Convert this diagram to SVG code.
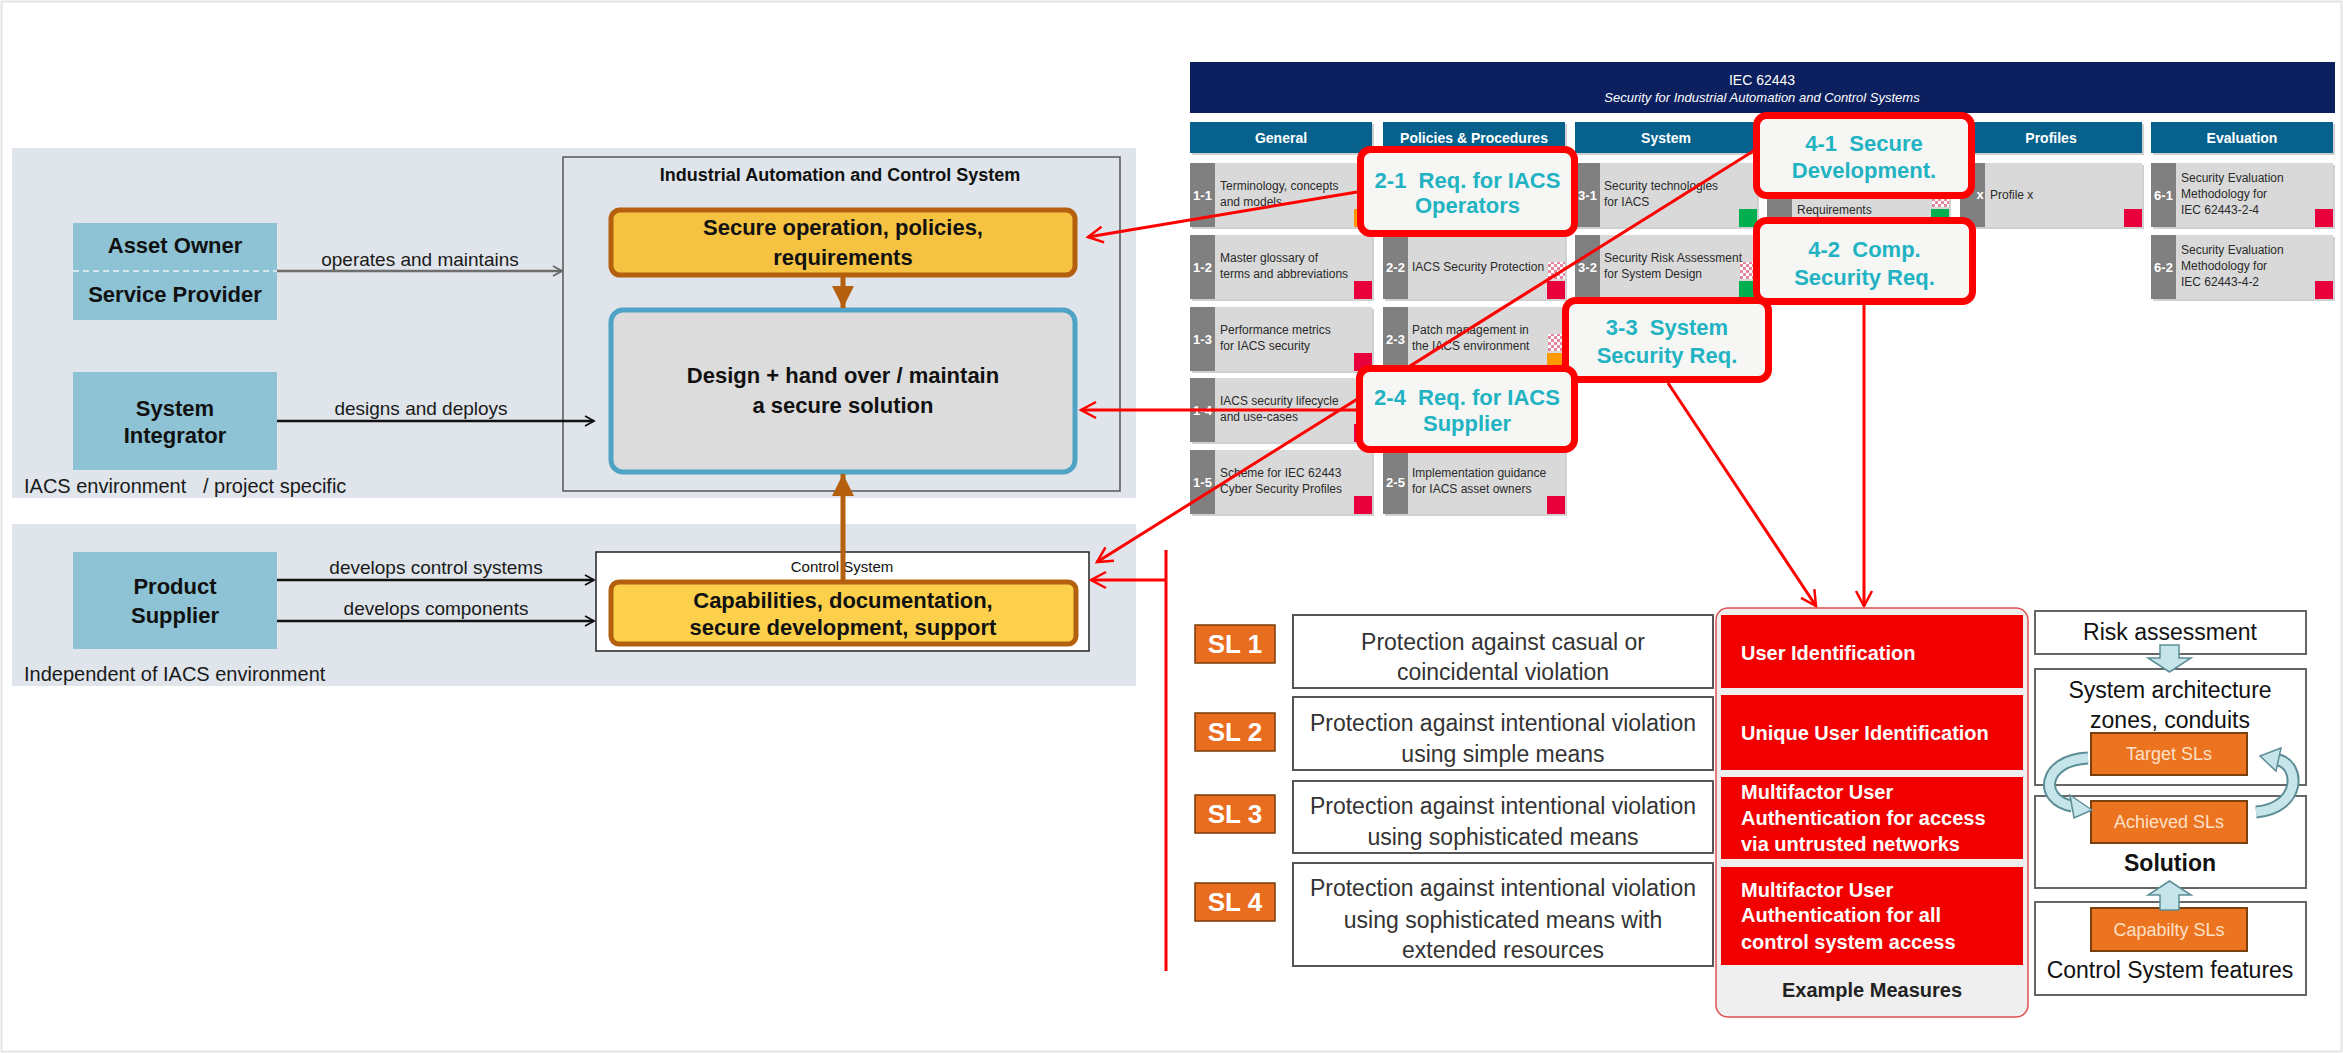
<svg xmlns="http://www.w3.org/2000/svg" width="2343" height="1053" viewBox="0 0 2343 1053">
<style>
text{font-family:"Liberation Sans",Arial,sans-serif}
.pre{white-space:pre}
.panel{fill:#dfe5eb}
.actor{fill:#8dc3d4}
.bt{font-size:22px;font-weight:bold;fill:#111;text-anchor:middle}
.lbl{font-size:19px;fill:#1a1a1a;text-anchor:middle}
.env{font-size:20px;fill:#1a1a1a}
.ybox{fill:#f5c242;stroke:#b4600f;stroke-width:5}
.ybox2{fill:#fcd04a;stroke:#b4600f;stroke-width:5}
.dbox{fill:#dcdcdc;stroke:#4fa3c4;stroke-width:5}
.hdr{fill:#06628d}
.hdrt{font-size:14px;font-weight:bold;fill:#fff;text-anchor:middle}
.shd{fill:#bcbcbc;opacity:.7}
.strip{fill:#808080}
.body{fill:#d9d9d9}
.num{font-size:13px;font-weight:bold;fill:#fff;text-anchor:middle}
.ct{font-size:12px;fill:#2a2a2a}
.red{fill:#e8003d}
.grn{fill:#00b050}
.org{fill:#ff9900}
.call{fill:#f6f6f4;stroke:#ff0000;stroke-width:7}
.callt{font-size:22px;font-weight:bold;fill:#22b3c3;text-anchor:middle}
.rl{stroke:#ff0000;stroke-width:3;fill:none}
.sl{fill:#e96d1f;stroke:#7a3a0a;stroke-width:1.5}
.slt{font-size:26px;font-weight:bold;fill:#fff;text-anchor:middle}
.desc{fill:#fff;stroke:#555;stroke-width:2}
.dt{font-size:23px;fill:#333;text-anchor:middle}
.meas{fill:#f20000}
.mt{font-size:20px;font-weight:bold;fill:#fff}
.rbox{fill:#fff;stroke:#666;stroke-width:2}
.rt{font-size:23px;fill:#111;text-anchor:middle}
.obox{fill:#ec7420;stroke:#7a4010;stroke-width:2}
.ot{font-size:18px;fill:#fde0c8;text-anchor:middle}
.lba{fill:#c6e5ea;stroke:#5d8e97;stroke-width:1.5}
</style>
<defs>
<pattern id="chk" width="6" height="6" patternUnits="userSpaceOnUse">
<rect width="6" height="6" fill="#ffffff"/>
<rect width="3" height="3" fill="#e4869e"/>
<rect x="3" y="3" width="3" height="3" fill="#e4869e"/>
</pattern>
<marker id="ag" markerUnits="userSpaceOnUse" markerWidth="14" markerHeight="14" refX="10" refY="6" orient="auto">
<path d="M1,1 L10,6 L1,11" fill="none" stroke="#666" stroke-width="1.8"/>
</marker>
<marker id="ab" markerUnits="userSpaceOnUse" markerWidth="14" markerHeight="14" refX="10" refY="6" orient="auto">
<path d="M1,1 L10,6 L1,11" fill="none" stroke="#111" stroke-width="1.8"/>
</marker>
<marker id="ar" markerUnits="userSpaceOnUse" markerWidth="22" markerHeight="22" refX="18" refY="11" orient="auto">
<path d="M3,3 L18,11 L3,19" fill="none" stroke="#ff0000" stroke-width="2.5"/>
</marker>
<marker id="abr" markerUnits="userSpaceOnUse" markerWidth="26" markerHeight="24" refX="22" refY="11" orient="auto">
<path d="M0,0 L22,11 L0,22 Z" fill="#b4600f"/>
</marker>
</defs>

<rect x="0" y="0" width="2343" height="1053" fill="#ffffff"/>
<rect x="1.5" y="1.5" width="2340" height="1050" fill="none" stroke="#e4e4e4" stroke-width="2"/>

<!-- left panels -->
<g id="panel-iacs">
<rect class="panel" x="12" y="148" width="1124" height="350"/>
<text class="env pre" x="24" y="493">IACS environment   / project specific</text>
</g>
<g id="panel-indep">
<rect class="panel" x="12" y="524" width="1124" height="162"/>
<text class="env" x="24" y="681">Independent of IACS environment</text>
</g>

<g id="asset-owner">
<rect class="actor" x="73" y="223" width="204" height="97"/>
<line x1="73" y1="271" x2="277" y2="271" stroke="#d4e8ee" stroke-width="2" stroke-dasharray="6,4"/>
<text class="bt" x="175" y="253">Asset Owner</text>
<text class="bt" x="175" y="302">Service Provider</text>
</g>
<g id="system-integrator">
<rect class="actor" x="73" y="372" width="204" height="98"/>
<text class="bt" x="175" y="416">System</text>
<text class="bt" x="175" y="443">Integrator</text>
</g>
<g id="product-supplier">
<rect class="actor" x="73" y="552" width="204" height="97"/>
<text class="bt" x="175" y="594">Product</text>
<text class="bt" x="175" y="623">Supplier</text>
</g>

<g id="iacs-box">
<rect x="563" y="157" width="557" height="334" fill="none" stroke="#555" stroke-width="1.5"/>
<text x="840" y="181" font-size="18" font-weight="bold" fill="#111" text-anchor="middle">Industrial Automation and Control System</text>
</g>
<g id="secure-operation">
<rect class="ybox" x="611" y="210" width="464" height="65" rx="9"/>
<text class="bt" x="843" y="235">Secure operation, policies,</text>
<text class="bt" x="843" y="265">requirements</text>
</g>
<g id="design-solution">
<rect class="dbox" x="611" y="310" width="464" height="162" rx="12"/>
<text class="bt" x="843" y="383">Design + hand over / maintain</text>
<text class="bt" x="843" y="413">a secure solution</text>
</g>
<g id="control-system">
<rect x="596" y="552" width="493" height="99" fill="#fff" stroke="#222" stroke-width="1.5"/>
<text x="842" y="572" font-size="15" fill="#111" text-anchor="middle">Control System</text>
</g>
<g id="capabilities">
<rect class="ybox2" x="611" y="582" width="465" height="62" rx="8"/>
<text class="bt" x="843" y="608">Capabilities, documentation,</text>
<text class="bt" x="843" y="635">secure development, support</text>
</g>

<!-- IEC 62443 overview -->
<g id="iec-header">
<rect x="1190" y="62" width="1145" height="51" fill="#0c1f5e"/>
<text x="1762" y="85" font-size="14" fill="#fff" text-anchor="middle">IEC 62443</text>
<text x="1762" y="102" font-size="13" font-style="italic" fill="#fff" text-anchor="middle">Security for Industrial Automation and Control Systems</text>
</g>
<g id="col-headers">
<rect class="shd" x="1192" y="124" width="182" height="31"/><rect class="hdr" x="1190" y="122" width="182" height="31"/><text class="hdrt" x="1281" y="143">General</text>
<rect class="shd" x="1385" y="124" width="182" height="31"/><rect class="hdr" x="1383" y="122" width="182" height="31"/><text class="hdrt" x="1474" y="143">Policies &amp; Procedures</text>
<rect class="shd" x="1577" y="124" width="182" height="31"/><rect class="hdr" x="1575" y="122" width="182" height="31"/><text class="hdrt" x="1666" y="143">System</text>
<rect class="hdr" x="1767" y="122" width="182" height="31"/>
<rect class="shd" x="1962" y="124" width="182" height="31"/><rect class="hdr" x="1960" y="122" width="182" height="31"/><text class="hdrt" x="2051" y="143">Profiles</text>
<rect class="shd" x="2153" y="124" width="182" height="31"/><rect class="hdr" x="2151" y="122" width="182" height="31"/><text class="hdrt" x="2242" y="143">Evaluation</text>
</g>

<g id="card-1-1">
<rect class="shd" x="1192" y="165" width="182" height="64"/><rect class="strip" x="1190" y="163" width="25" height="64"/><rect class="body" x="1215" y="163" width="157" height="64"/>
<text class="num" x="1202.5" y="200">1-1</text>
<text class="ct" x="1220" y="190">Terminology, concepts</text><text class="ct" x="1220" y="206">and models</text>
<rect class="org" x="1354" y="209" width="18" height="18"/>
</g>
<g id="card-1-2">
<rect class="shd" x="1192" y="237" width="182" height="64"/><rect class="strip" x="1190" y="235" width="25" height="64"/><rect class="body" x="1215" y="235" width="157" height="64"/>
<text class="num" x="1202.5" y="272">1-2</text>
<text class="ct" x="1220" y="262">Master glossary of</text><text class="ct" x="1220" y="278">terms and abbreviations</text>
<rect class="red" x="1354" y="281" width="18" height="18"/>
</g>
<g id="card-1-3">
<rect class="shd" x="1192" y="309" width="182" height="64"/><rect class="strip" x="1190" y="307" width="25" height="64"/><rect class="body" x="1215" y="307" width="157" height="64"/>
<text class="num" x="1202.5" y="344">1-3</text>
<text class="ct" x="1220" y="334">Performance metrics</text><text class="ct" x="1220" y="350">for IACS security</text>
<rect class="red" x="1354" y="353" width="18" height="18"/>
</g>
<g id="card-1-4">
<rect class="shd" x="1192" y="380" width="182" height="64"/><rect class="strip" x="1190" y="378" width="25" height="64"/><rect class="body" x="1215" y="378" width="157" height="64"/>
<text class="num" x="1202.5" y="415">1-4</text>
<text class="ct" x="1220" y="405">IACS security lifecycle</text><text class="ct" x="1220" y="421">and use-cases</text>
<rect class="red" x="1354" y="424" width="18" height="18"/>
</g>
<g id="card-1-5">
<rect class="shd" x="1192" y="452" width="182" height="64"/><rect class="strip" x="1190" y="450" width="25" height="64"/><rect class="body" x="1215" y="450" width="157" height="64"/>
<text class="num" x="1202.5" y="487">1-5</text>
<text class="ct" x="1220" y="477">Scheme for IEC 62443</text><text class="ct" x="1220" y="493">Cyber Security Profiles</text>
<rect class="red" x="1354" y="496" width="18" height="18"/>
</g>
<g id="card-2-2">
<rect class="shd" x="1385" y="237" width="182" height="64"/><rect class="strip" x="1383" y="235" width="25" height="64"/><rect class="body" x="1408" y="235" width="157" height="64"/>
<text class="num" x="1395.5" y="272">2-2</text>
<text class="ct" x="1412" y="271">IACS Security Protection</text>
<rect fill="url(#chk)" x="1548" y="262" width="17" height="17"/>
<rect class="red" x="1547" y="281" width="18" height="18"/>
</g>
<g id="card-2-3">
<rect class="shd" x="1385" y="309" width="182" height="64"/><rect class="strip" x="1383" y="307" width="25" height="64"/><rect class="body" x="1408" y="307" width="157" height="64"/>
<text class="num" x="1395.5" y="344">2-3</text>
<text class="ct" x="1412" y="334">Patch management in</text><text class="ct" x="1412" y="350">the IACS environment</text>
<rect fill="url(#chk)" x="1548" y="334" width="17" height="17"/>
<rect class="org" x="1547" y="353" width="18" height="18"/>
</g>
<g id="card-2-5">
<rect class="shd" x="1385" y="452" width="182" height="64"/><rect class="strip" x="1383" y="450" width="25" height="64"/><rect class="body" x="1408" y="450" width="157" height="64"/>
<text class="num" x="1395.5" y="487">2-5</text>
<text class="ct" x="1412" y="477">Implementation guidance</text><text class="ct" x="1412" y="493">for IACS asset owners</text>
<rect class="red" x="1547" y="496" width="18" height="18"/>
</g>
<g id="card-3-1">
<rect class="shd" x="1577" y="165" width="182" height="64"/><rect class="strip" x="1575" y="163" width="25" height="64"/><rect class="body" x="1600" y="163" width="157" height="64"/>
<text class="num" x="1587.5" y="200">3-1</text>
<text class="ct" x="1604" y="190">Security technologies</text><text class="ct" x="1604" y="206">for IACS</text>
<rect class="grn" x="1739" y="209" width="18" height="18"/>
</g>
<g id="card-3-2">
<rect class="shd" x="1577" y="237" width="182" height="64"/><rect class="strip" x="1575" y="235" width="25" height="64"/><rect class="body" x="1600" y="235" width="157" height="64"/>
<text class="num" x="1587.5" y="272">3-2</text>
<text class="ct" x="1604" y="262">Security Risk Assessment</text><text class="ct" x="1604" y="278">for System Design</text>
<rect fill="url(#chk)" x="1740" y="262" width="17" height="17"/>
<rect class="grn" x="1739" y="281" width="18" height="18"/>
</g>
<g id="card-4-1">
<rect class="shd" x="1769" y="165" width="182" height="64"/><rect class="strip" x="1767" y="163" width="25" height="64"/><rect class="body" x="1792" y="163" width="157" height="64"/>
<text class="ct" x="1797" y="214">Requirements</text>
<rect fill="url(#chk)" x="1932" y="190" width="17" height="17"/>
<rect class="grn" x="1931" y="209" width="18" height="18"/>
</g>
<g id="card-5-x">
<rect class="shd" x="1962" y="165" width="182" height="64"/><rect class="strip" x="1960" y="163" width="25" height="64"/><rect class="body" x="1985" y="163" width="157" height="64"/>
<text class="num" x="1980" y="199">x</text>
<text class="ct" x="1990" y="199">Profile x</text>
<rect class="red" x="2124" y="209" width="18" height="18"/>
</g>
<g id="card-6-1">
<rect class="shd" x="2153" y="165" width="182" height="64"/><rect class="strip" x="2151" y="163" width="25" height="64"/><rect class="body" x="2176" y="163" width="157" height="64"/>
<text class="num" x="2163.5" y="200">6-1</text>
<text class="ct" x="2181" y="182">Security Evaluation</text><text class="ct" x="2181" y="198">Methodology for</text><text class="ct" x="2181" y="214">IEC 62443-2-4</text>
<rect class="red" x="2315" y="209" width="18" height="18"/>
</g>
<g id="card-6-2">
<rect class="shd" x="2153" y="237" width="182" height="64"/><rect class="strip" x="2151" y="235" width="25" height="64"/><rect class="body" x="2176" y="235" width="157" height="64"/>
<text class="num" x="2163.5" y="272">6-2</text>
<text class="ct" x="2181" y="254">Security Evaluation</text><text class="ct" x="2181" y="270">Methodology for</text><text class="ct" x="2181" y="286">IEC 62443-4-2</text>
<rect class="red" x="2315" y="281" width="18" height="18"/>
</g>

<!-- connectors -->
<g id="connectors">
<line x1="277" y1="271" x2="562" y2="271" stroke="#6e6e6e" stroke-width="2.5" marker-end="url(#ag)"/>
<text class="lbl" x="420" y="266">operates and maintains</text>
<line x1="277" y1="421" x2="594" y2="421" stroke="#111" stroke-width="2.5" marker-end="url(#ab)"/>
<text class="lbl" x="421" y="415">designs and deploys</text>
<line x1="277" y1="580" x2="594" y2="580" stroke="#111" stroke-width="2.5" marker-end="url(#ab)"/>
<text class="lbl" x="436" y="574">develops control systems</text>
<line x1="277" y1="621" x2="594" y2="621" stroke="#111" stroke-width="2.5" marker-end="url(#ab)"/>
<text class="lbl" x="436" y="615">develops components</text>
<line x1="843" y1="277" x2="843" y2="308" stroke="#b4600f" stroke-width="5" marker-end="url(#abr)"/>
<line x1="843" y1="580" x2="843" y2="474" stroke="#b4600f" stroke-width="5" marker-end="url(#abr)"/>
<line class="rl" x1="1357" y1="192" x2="1088" y2="237" marker-end="url(#ar)"/>
<line class="rl" x1="1356" y1="410" x2="1081" y2="410" marker-end="url(#ar)"/>
<line class="rl" x1="1755" y1="150" x2="1097" y2="562" marker-end="url(#ar)"/>
<line class="rl" x1="1166" y1="550" x2="1166" y2="971" stroke-width="2"/>
<line class="rl" x1="1166" y1="580" x2="1091" y2="580" marker-end="url(#ar)"/>
<line class="rl" x1="1668" y1="383" x2="1816" y2="606" marker-end="url(#ar)"/>
<line class="rl" x1="1864" y1="305" x2="1864" y2="606" marker-end="url(#ar)"/>
</g>

<!-- callouts -->
<g id="callout-2-1">
<rect class="call" x="1360.5" y="149.5" width="214" height="84" rx="10"/>
<text class="callt pre" x="1467.5" y="188">2-1  Req. for IACS</text>
<text class="callt" x="1467.5" y="213">Operators</text>
</g>
<g id="callout-4-1">
<rect class="call" x="1756.5" y="115.5" width="215" height="80" rx="10"/>
<text class="callt pre" x="1864" y="151">4-1  Secure</text>
<text class="callt" x="1864" y="178">Development.</text>
</g>
<g id="callout-4-2">
<rect class="call" x="1756.5" y="220.5" width="216" height="81" rx="10"/>
<text class="callt pre" x="1864.5" y="257">4-2  Comp.</text>
<text class="callt" x="1864.5" y="285">Security Req.</text>
</g>
<g id="callout-3-3">
<rect class="call" x="1565.5" y="300.5" width="203" height="79" rx="10"/>
<text class="callt pre" x="1667" y="335">3-3  System</text>
<text class="callt" x="1667" y="363">Security Req.</text>
</g>
<g id="callout-2-4">
<rect class="call" x="1359.5" y="368.5" width="215" height="81" rx="10"/>
<text class="callt pre" x="1467" y="405">2-4  Req. for IACS</text>
<text class="callt" x="1467" y="431">Supplier</text>
</g>

<!-- security levels -->
<g id="sl1">
<rect class="sl" x="1195" y="625" width="80" height="38"/><text class="slt" x="1235" y="653">SL 1</text>
<rect class="desc" x="1293" y="615" width="420" height="73"/>
<text class="dt" x="1503" y="650">Protection against casual or</text>
<text class="dt" x="1503" y="680">coincidental violation</text>
</g>
<g id="sl2">
<rect class="sl" x="1195" y="713" width="80" height="38"/><text class="slt" x="1235" y="741">SL 2</text>
<rect class="desc" x="1293" y="697" width="420" height="73"/>
<text class="dt" x="1503" y="731">Protection against intentional violation</text>
<text class="dt" x="1503" y="762">using simple means</text>
</g>
<g id="sl3">
<rect class="sl" x="1195" y="795" width="80" height="38"/><text class="slt" x="1235" y="823">SL 3</text>
<rect class="desc" x="1293" y="781" width="420" height="72"/>
<text class="dt" x="1503" y="814">Protection against intentional violation</text>
<text class="dt" x="1503" y="845">using sophisticated means</text>
</g>
<g id="sl4">
<rect class="sl" x="1195" y="883" width="80" height="38"/><text class="slt" x="1235" y="911">SL 4</text>
<rect class="desc" x="1293" y="863" width="420" height="103"/>
<text class="dt" x="1503" y="896">Protection against intentional violation</text>
<text class="dt" x="1503" y="928">using sophisticated means with</text>
<text class="dt" x="1503" y="958">extended resources</text>
</g>

<g id="example-measures">
<rect x="1716" y="608" width="312" height="409" rx="12" fill="#efefef" stroke="#e05050" stroke-width="1.5"/>
<rect class="meas" x="1721" y="615" width="302" height="73"/>
<text class="mt" x="1741" y="660">User Identification</text>
<rect class="meas" x="1721" y="695" width="302" height="75"/>
<text class="mt" x="1741" y="740">Unique User Identification</text>
<rect class="meas" x="1721" y="777" width="302" height="82"/>
<text class="mt" x="1741" y="799">Multifactor User</text>
<text class="mt" x="1741" y="825">Authentication for access</text>
<text class="mt" x="1741" y="851">via untrusted networks</text>
<rect class="meas" x="1721" y="867" width="302" height="98"/>
<text class="mt" x="1741" y="897">Multifactor User</text>
<text class="mt" x="1741" y="922">Authentication for all</text>
<text class="mt" x="1741" y="949">control system access</text>
<text x="1872" y="997" font-size="20" font-weight="bold" fill="#222" text-anchor="middle">Example Measures</text>
</g>

<g id="risk-assessment">
<rect class="rbox" x="2035" y="611" width="271" height="43"/>
<text class="rt" x="2170" y="640">Risk assessment</text>
</g>
<g id="system-architecture">
<rect class="rbox" x="2035" y="669" width="271" height="116"/>
<text class="rt" x="2170" y="698">System architecture</text>
<text class="rt" x="2170" y="728">zones, conduits</text>
<rect class="obox" x="2091" y="733" width="156" height="42"/>
<text class="ot" x="2169" y="760">Target SLs</text>
</g>
<g id="solution">
<rect class="rbox" x="2035" y="796" width="271" height="92"/>
<rect class="obox" x="2091" y="801" width="156" height="42"/>
<text class="ot" x="2169" y="828">Achieved SLs</text>
<text x="2170" y="871" font-size="23" font-weight="bold" fill="#111" text-anchor="middle">Solution</text>
</g>
<g id="control-system-features">
<rect class="rbox" x="2035" y="902" width="271" height="93"/>
<rect class="obox" x="2091" y="908" width="156" height="43"/>
<text class="ot" x="2169" y="936">Capabilty SLs</text>
<text class="rt" x="2170" y="978">Control System features</text>
</g>
<g id="flow-arrows">
<polygon class="lba" points="2160,645 2179,645 2179,658 2191,658 2169.5,672 2148,658 2160,658"/>
<polygon class="lba" points="2169.5,881 2191,895 2179,895 2179,910 2160,910 2160,895 2148,895"/>
<path d="M2088,758 C2042,760 2038,800 2072,806" fill="none" stroke="#5d8e97" stroke-width="13"/>
<path d="M2088,758 C2042,760 2038,800 2072,806" fill="none" stroke="#c6e5ea" stroke-width="9"/>
<polygon class="lba" points="2092,810 2070,795 2074,818"/>
<path d="M2256,812 C2302,808 2300,764 2278,760" fill="none" stroke="#5d8e97" stroke-width="13"/>
<path d="M2256,812 C2302,808 2300,764 2278,760" fill="none" stroke="#c6e5ea" stroke-width="9"/>
<polygon class="lba" points="2260,756 2281,748 2276,771"/>
</g>
</svg>
